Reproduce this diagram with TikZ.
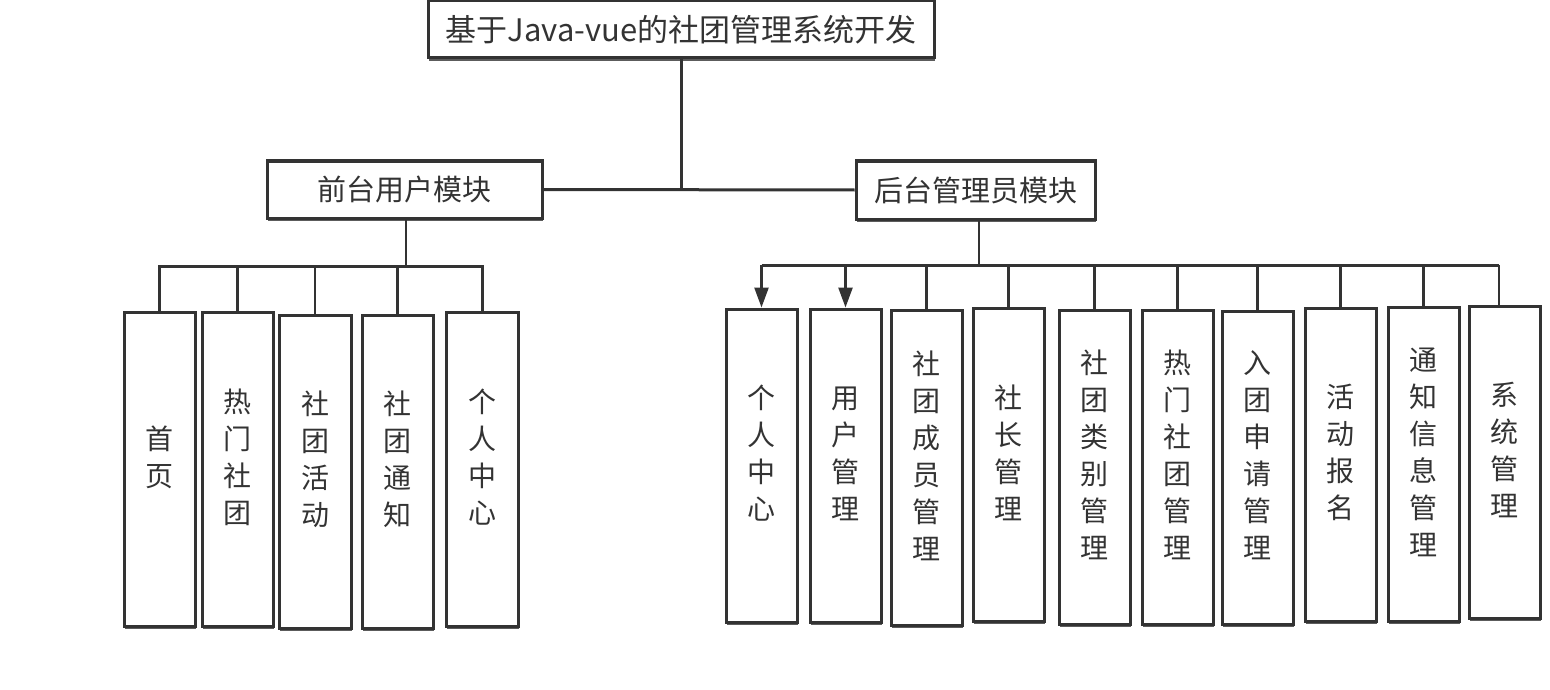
\documentclass[tikz,border=0pt]{standalone}
\usepackage{fontspec}
\setmainfont{Noto Sans CJK SC}
\usetikzlibrary{arrows.meta,shadows}
\definecolor{ink}{HTML}{333333}
\tikzset{
  boxline/.style={draw=ink, line width=3pt, fill=white,
    drop shadow={shadow xshift=0.5pt, shadow yshift=-3pt, fill=ink!80, opacity=1}},
  titlebox/.style={boxline, inner sep=0pt, font=\fontsize{31}{36}\selectfont, text=ink},
  modbox/.style={boxline, inner sep=0pt, font=\fontsize{29}{34}\selectfont, text=ink},
  leaf/.style={boxline, inner sep=0pt},
  leaftext/.style={font=\fontsize{28}{37}\selectfont, align=center, text=ink, inner sep=0pt},
  bus/.style={draw=ink, line width=3pt},
  drop/.style={draw=ink, line width=2.5pt},
  droparrow/.style={drop, -{Triangle[length=20pt,width=14pt]}},
}
\newcommand\leafbox[6]{%
  \node[leaf, minimum width=#4pt-#2pt, minimum height=#5pt-#3pt] (#1) at ({(#2+#4)/2},{(#3+#5)/2}) {};
  \node[leaftext] (#1t) at ([yshift=12pt]#1.center) {#6};
}
\begin{document}
\begin{tikzpicture}[x=1pt,y=-1pt]
\useasboundingbox (0,0) rectangle (1550,690);
% top
\node[titlebox, minimum width=506pt, minimum height=57pt] (title) at (681,29.5) {基于Java-vue的社团管理系统开发};
\node[modbox, minimum width=275pt, minimum height=57pt] (front) at (404.5,189.5) {前台用户模块};
\node[modbox, minimum width=239pt, minimum height=58pt] (back) at (975.5,190) {后台管理员模块};
\coordinate (jt) at (681,188);
\draw[bus] (title.south) -- (jt);
\draw[bus] (front.east) -- (back.west);
% left leaves
\leafbox{l1}{124}{312}{195}{626}{首\\页}
\leafbox{l2}{202}{312}{273}{626}{热\\门\\社\\团}
\leafbox{l3}{279}{315}{351}{628}{社\\团\\活\\动}
\leafbox{l4}{362}{315}{433}{628}{社\\团\\通\\知}
\leafbox{l5}{446}{312}{518}{626}{个\\人\\中\\心}
% right leaves
\leafbox{r1}{726}{309}{797}{622}{个\\人\\中\\心}
\leafbox{r2}{810}{309}{881}{622}{用\\户\\管\\理}
\leafbox{r3}{891}{310}{962}{625}{社\\团\\成\\员\\管\\理}
\leafbox{r4}{973}{308}{1044}{621}{社\\长\\管\\理}
\leafbox{r5}{1059}{310}{1130}{624}{社\\团\\类\\别\\管\\理}
\leafbox{r6}{1142}{310}{1213}{624}{热\\门\\社\\团\\管\\理}
\leafbox{r7}{1222}{311}{1293}{624}{入\\团\\申\\请\\管\\理}
\leafbox{r8}{1305}{308}{1376}{621}{活\\动\\报\\名}
\leafbox{r9}{1388}{307}{1459}{621}{通\\知\\信\\息\\管\\理}
\leafbox{r10}{1469}{306}{1540}{618}{系\\统\\管\\理}
% left connectors
\coordinate (lb) at (406,266);
\draw[drop] (front.south -| lb) -- (lb);
\draw[bus] (l1.north) |- (lb) -| (l5.north);
\foreach \n in {l2,l3,l4}{\draw[drop] (\n.north) -- (\n.north |- lb);}
% right connectors
\coordinate (rb) at (979,265);
\coordinate (r10top) at ([xshift=-5.5pt]r10.north);
\draw[drop] (back.south -| rb) -- (rb);
\draw[bus] (r1.north |- rb) -- (r10top |- rb);
\draw[droparrow] (r1.north |- rb) -- (r1.north);
\draw[droparrow] (r2.north |- rb) -- (r2.north);
\foreach \n in {r3,r4,r5,r6,r7,r8,r9}{\draw[drop] (\n.north |- rb) -- (\n.north);}
\draw[drop] (r10top |- rb) -- (r10top);
\end{tikzpicture}
\end{document}
